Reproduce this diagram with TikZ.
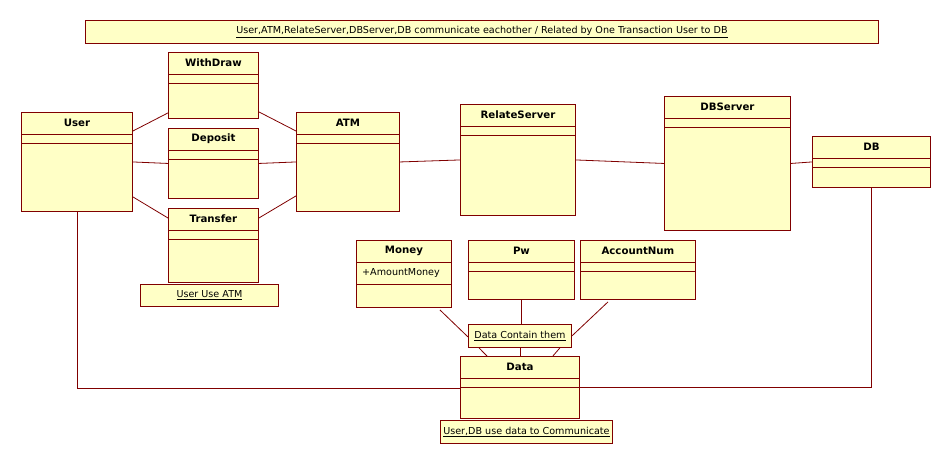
\documentclass[tikz,border=0pt]{standalone}
\usepackage{fontspec}
\setmainfont{DejaVu Sans}
\usetikzlibrary{calc}
\definecolor{umlborder}{RGB}{128,0,0}
\definecolor{umlfill}{RGB}{255,255,198}
\tikzset{
  cls/.style={draw=umlborder, fill=umlfill, line width=0.9pt, inner sep=0pt, anchor=north west},
  clsname/.style={font=\fontsize{10.2}{12}\selectfont\bfseries, inner sep=0pt, text=black},
  attr/.style={font=\fontsize{9.6}{11}\selectfont, inner sep=0pt, anchor=west, text=black},
  note/.style={draw=umlborder, fill=umlfill, line width=0.9pt, inner sep=0pt, anchor=north west},
  notetext/.style={font=\fontsize{9.6}{11}\selectfont, inner sep=0pt, text=black},
  divider/.style={draw=umlborder, line width=0.8pt},
  conn/.style={draw=umlborder, line width=0.8pt},
}
\newcommand\umlcls[7]{%
  \node[cls, minimum width=#4pt, minimum height=#5pt] (#1) at (#2,#3) {};
  \node[clsname] (#1-t) at ($(#1.north)+(0,11)$) {#6};
  \draw[divider] ($(#1.north west)+(0,22)$) -- ($(#1.north east)+(0,22)$);
  \draw[divider] ($(#1.north west)+(0,22+#7)$) -- ($(#1.north east)+(0,22+#7)$);
}
\newcommand\umlnote[6]{%
  \node[note, minimum width=#4pt, minimum height=#5pt] (#1) at (#2,#3) {};
  \node[notetext] (#1-t) at (#1.center) {\underline{#6}};
}
\begin{document}
\begin{tikzpicture}[x=1pt, y=-1pt]
\useasboundingbox (0,0) rectangle (951,464);
\fill[white] (0,0) rectangle (951,464);

% title note
\umlnote{title}{85}{20}{793}{23}{User,ATM,RelateServer,DBServer,DB communicate eachother / Related by One Transaction User to DB}

% classes
\umlcls{user}{21}{112}{111}{99}{User}{9}
\umlcls{withdraw}{168}{52}{90}{66}{WithDraw}{9}
\umlcls{deposit}{168}{128}{90}{70}{Deposit}{9}
\umlcls{transfer}{168}{208}{90}{74}{Transfer}{9}
\umlcls{atm}{296}{112}{103}{99}{ATM}{9}
\umlcls{relate}{460}{104}{115}{111}{RelateServer}{9}
\umlcls{dbserver}{664}{96}{126}{134}{DBServer}{9}
\umlcls{db}{812}{136}{118}{51}{DB}{9}
\umlcls{money}{356}{240}{95}{67}{Money}{22}
\node[attr] (money-a) at ($(money.north west)+(6,33)$) {+AmountMoney};
\umlcls{pw}{468}{240}{106}{59}{Pw}{9}
\umlcls{acct}{580}{240}{115}{59}{AccountNum}{9}
\umlcls{data}{460}{356}{119}{62}{Data}{9}

% notes
\umlnote{useatm}{140}{284}{138}{22}{User Use ATM}
\umlnote{contain}{468}{324}{103}{23}{Data Contain them}
\umlnote{usedb}{440}{420}{172}{23}{User,DB use data to Communicate}

% connectors
\draw[conn] ($(user.north east)+(0,19)$) -- ($(withdraw.south west)+(0,-6)$);
\draw[conn] ($(withdraw.south east)+(0,-7)$) -- ($(atm.north west)+(0,19)$);
\draw[conn] (user.east) -- (deposit.west);
\draw[conn] (deposit.east) -- (atm.west);
\draw[conn] ($(user.south east)+(0,-15)$) -- ($(transfer.north west)+(0,10)$);
\draw[conn] ($(transfer.north east)+(0,10)$) -- ($(atm.south west)+(0,-16)$);
\draw[conn] (atm.east) -- (relate.west);
\draw[conn] (relate.east) -- (dbserver.west);
\draw[conn] (dbserver.east) -- (db.west);
\draw[conn] (user.south) |- ($(data.north west)+(0,32)$);
\draw[conn] (db.south) |- ($(data.north east)+(0,31)$);
\draw[conn] ($(money.south east)+(-12,2)$) -- ($(contain.west)+(0,1)$);
\draw[conn] (pw.south) -- (contain.north -| pw.south);
\draw[conn] ($(acct.south west)+(28,2)$) -- (contain.east);
\draw[conn] ($(contain.south west)+(11,0)$) -- ($(data.north west)+(27,0)$);
\draw[conn] (contain.south) -- (data.north);
\draw[conn] ($(contain.south east)+(-12,0)$) -- ($(data.north east)+(-27,0)$);
\end{tikzpicture}
\end{document}
